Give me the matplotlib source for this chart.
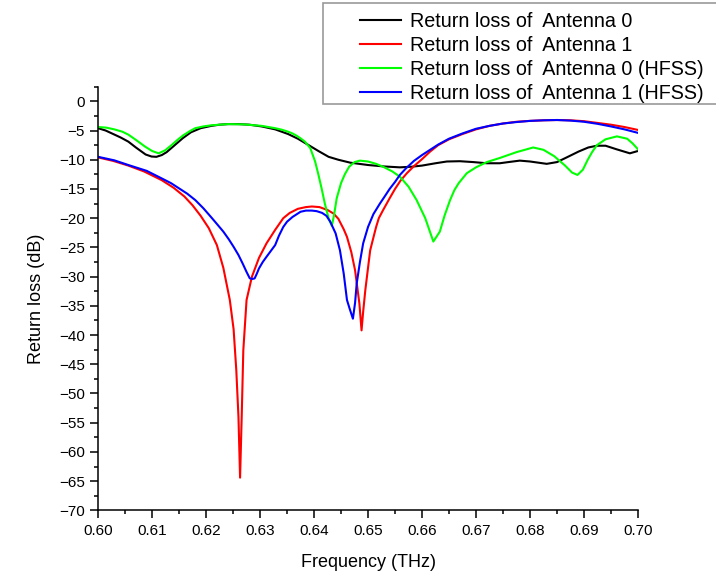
import matplotlib
matplotlib.use("Agg")
import matplotlib.pyplot as plt
from matplotlib.patches import Rectangle
from matplotlib.ticker import MultipleLocator, FormatStrFormatter

plt.rcParams['font.family'] = ['Liberation Sans', 'DejaVu Sans']

# Antenna 0 (black)
f_black = [0.600, 0.6014, 0.6028, 0.6042, 0.6056, 0.607, 0.6088, 0.6099, 0.6108, 0.6118,
           0.6127, 0.6142, 0.6157, 0.6172, 0.619, 0.621, 0.6225, 0.6241, 0.626, 0.628,
           0.6303, 0.6328, 0.634, 0.6352, 0.637, 0.639, 0.6408, 0.6427, 0.6445, 0.6467,
           0.650, 0.653, 0.6559, 0.658, 0.660, 0.6625, 0.6646, 0.667, 0.6695, 0.672,
           0.6744, 0.676, 0.6781, 0.680, 0.6831, 0.685, 0.6868, 0.689, 0.6908, 0.6924,
           0.694, 0.696, 0.6985, 0.700]
rl_black = [-4.6, -5.0, -5.6, -6.2, -6.9, -7.9, -9.1, -9.45, -9.5, -9.2,
            -8.7, -7.5, -6.3, -5.3, -4.6, -4.2, -4.0, -3.9, -3.9, -4.0,
            -4.3, -4.8, -5.2, -5.6, -6.4, -7.5, -8.5, -9.5, -10.0, -10.5,
            -10.9, -11.15, -11.3, -11.2, -11.0, -10.6, -10.3, -10.25, -10.4, -10.6,
            -10.6, -10.4, -10.15, -10.3, -10.7, -10.4, -9.6, -8.6, -7.9, -7.6,
            -7.6, -8.2, -8.9, -8.5]

# Antenna 1 (red)
f_red = [0.600, 0.6028, 0.6056, 0.6085, 0.6118, 0.614, 0.616, 0.6175, 0.619, 0.6205,
         0.622, 0.6232, 0.6244, 0.6251, 0.6256, 0.626, 0.6263, 0.6266, 0.6269, 0.6275,
         0.6285, 0.6298, 0.6312, 0.6328, 0.6343, 0.6355, 0.637, 0.6385, 0.6396, 0.641,
         0.6425, 0.6436, 0.6445, 0.6455, 0.6461, 0.6469, 0.6476, 0.6484, 0.6488, 0.6491,
         0.6495, 0.650, 0.6504, 0.651, 0.6515, 0.652, 0.6528, 0.654, 0.655, 0.656,
         0.6572, 0.6585, 0.660, 0.6615, 0.663, 0.665, 0.6675, 0.670, 0.6725, 0.675,
         0.6775, 0.680, 0.6825, 0.685, 0.6875, 0.690, 0.6925, 0.695, 0.6975, 0.700]
rl_red = [-9.6, -10.2, -11.0, -12.0, -13.5, -14.8, -16.3, -17.8, -19.6, -21.7,
          -24.6, -28.5, -34, -39, -46, -54, -64.4, -54, -42.6, -34,
          -30, -26.8, -24.3, -22.0, -20.0, -19.1, -18.4, -18.1, -18.0, -18.1,
          -18.6, -19.2, -20.1, -21.9, -23.2, -25.8, -28.9, -34.6, -39.2, -36,
          -32.3, -28.5, -25.5, -23.3, -21.5, -20.0, -18.6, -16.6, -15.0, -13.6,
          -12.3, -11.1, -9.9, -8.6, -7.5, -6.5, -5.6, -4.8, -4.2, -3.8,
          -3.5, -3.35, -3.25, -3.2, -3.25, -3.4, -3.7, -4.0, -4.4, -4.9]

# Antenna 0 HFSS (green)
f_green = [0.600, 0.6015, 0.603, 0.6045, 0.6056, 0.607, 0.6087, 0.610, 0.6112, 0.6124,
           0.6136, 0.6147, 0.6158, 0.617, 0.618, 0.6195, 0.621, 0.6241, 0.627, 0.6303,
           0.6328, 0.634, 0.6352, 0.636, 0.6368, 0.6376, 0.6383, 0.6393, 0.6402, 0.6408,
           0.6414, 0.642, 0.6427, 0.6433, 0.6437, 0.6442, 0.645, 0.6457, 0.6465, 0.6475,
           0.6485, 0.650, 0.6515, 0.6528, 0.6545, 0.6559, 0.6575, 0.659, 0.6606, 0.6621,
           0.6633, 0.6642, 0.6652, 0.666, 0.6668, 0.6683, 0.670, 0.672, 0.6744, 0.6775,
           0.6806, 0.6825, 0.6845, 0.6865, 0.6878, 0.6888, 0.6898, 0.6907, 0.6915, 0.6924,
           0.694, 0.6961, 0.698, 0.699, 0.700]
rl_green = [-4.4, -4.5, -4.8, -5.2, -5.7, -6.6, -7.75, -8.5, -8.9, -8.4,
            -7.5, -6.6, -5.8, -5.1, -4.6, -4.3, -4.1, -3.9, -3.95, -4.2,
            -4.6, -4.85, -5.2, -5.5, -5.9, -6.4, -6.9, -8.0, -10.3, -12.5,
            -14.9, -17.5, -20.0, -21.3, -19.5, -16.6, -14.0, -12.5, -11.2, -10.4,
            -10.15, -10.3, -10.7, -11.2, -12.0, -12.9, -14.6, -16.9, -20.0, -24.0,
            -22.3, -19.5, -16.9, -15.2, -14.0, -12.3, -11.3, -10.4, -9.7, -8.7,
            -7.9, -8.3, -9.4, -11.0, -12.2, -12.6, -11.7, -10.0, -8.7, -7.5,
            -6.5, -6.0, -6.4, -7.2, -8.2]

# Antenna 1 HFSS (blue)
f_blue = [0.600, 0.603, 0.6056, 0.609, 0.6118, 0.6135, 0.615, 0.6165, 0.618, 0.6195,
          0.6211, 0.6222, 0.6232, 0.6242, 0.6251, 0.626, 0.6268, 0.6275, 0.6281, 0.6286,
          0.629, 0.6294, 0.6298, 0.6305, 0.6312, 0.632, 0.6328, 0.6335, 0.6343, 0.635,
          0.636, 0.6375, 0.6385, 0.6396, 0.6405, 0.6415, 0.6423, 0.643, 0.644, 0.6448,
          0.6455, 0.6461, 0.6466, 0.6472, 0.6476, 0.6479, 0.6485, 0.6491, 0.650, 0.651,
          0.6522, 0.653, 0.654, 0.655, 0.6559, 0.657, 0.6585, 0.660, 0.6615, 0.663,
          0.665, 0.6675, 0.670, 0.6725, 0.675, 0.6775, 0.680, 0.6825, 0.685, 0.6875,
          0.690, 0.6925, 0.695, 0.6975, 0.700]
rl_blue = [-9.5, -10.1, -10.9, -11.9, -13.2, -14.0, -14.9, -15.8, -16.9, -18.3,
           -20.0, -21.2, -22.3, -23.6, -24.9, -26.3, -27.8, -29.2, -30.3, -30.4,
           -30.3, -29.5, -28.6, -27.5, -26.6, -25.6, -24.6, -23.0, -21.5, -20.6,
           -19.8, -18.9, -18.7, -18.7, -18.8, -19.1, -19.6, -20.6, -22.6, -25.5,
           -29.5, -34, -35.5, -37.2, -34.5, -31.2, -27.5, -24.3, -21.5, -19.3,
           -17.5, -16.4, -15.0, -13.8, -12.6, -11.5, -10.2, -9.2, -8.3, -7.4,
           -6.4, -5.5, -4.7, -4.2, -3.8, -3.55, -3.35, -3.25, -3.2, -3.3,
           -3.5, -3.85, -4.3, -4.8, -5.4]

labels = ["Return loss of  Antenna 0", "Return loss of  Antenna 1",
          "Return loss of  Antenna 0 (HFSS)", "Return loss of  Antenna 1 (HFSS)"]

fig = plt.figure(figsize=(7.16, 5.78), dpi=100)
ax = fig.add_axes([0.137, 0.117, 0.754, 0.733])

l1, = ax.plot(f_black, rl_black, color='black', lw=1.5)
l2, = ax.plot(f_red, rl_red, color='#ff0000', lw=1.5)
l3, = ax.plot(f_green, rl_green, color='#00ff00', lw=1.5)
l4, = ax.plot(f_blue, rl_blue, color='#0000ff', lw=1.5)

ax.set_xlim(0.60, 0.70)
ax.set_ylim(-70, 2.5)
ax.xaxis.set_major_locator(MultipleLocator(0.01))
ax.xaxis.set_minor_locator(MultipleLocator(0.005))
ax.yaxis.set_major_locator(MultipleLocator(5))
ax.yaxis.set_minor_locator(MultipleLocator(2.5))
ax.xaxis.set_major_formatter(FormatStrFormatter('%.2f'))
ax.spines['top'].set_visible(False)
ax.spines['right'].set_visible(False)
for s in ['left', 'bottom']:
    ax.spines[s].set_linewidth(1.1)
ax.tick_params(which='major', direction='out', length=5.5, width=1.1, labelsize=11, pad=4)
ax.tick_params(which='minor', direction='out', length=3, width=1.1)

ax.set_xlabel("Frequency (THz)", fontsize=13, labelpad=12)
ax.set_ylabel("Return loss (dB)", fontsize=13, labelpad=10)

# legend box
fig.patches.append(Rectangle((323/716, 1-104/578), 400/716, 101/578, transform=fig.transFigure,
                             facecolor='white', edgecolor='#999999', lw=1.2, zorder=5))
fig.legend([l1, l2, l3, l4], labels, loc='upper left', bbox_to_anchor=(352/716, 1-4/578),
           frameon=False, fontsize=14.2, handlelength=2.1, handletextpad=0.45,
           labelspacing=0.25, borderaxespad=0)

fig.savefig("out.png", dpi=100)
